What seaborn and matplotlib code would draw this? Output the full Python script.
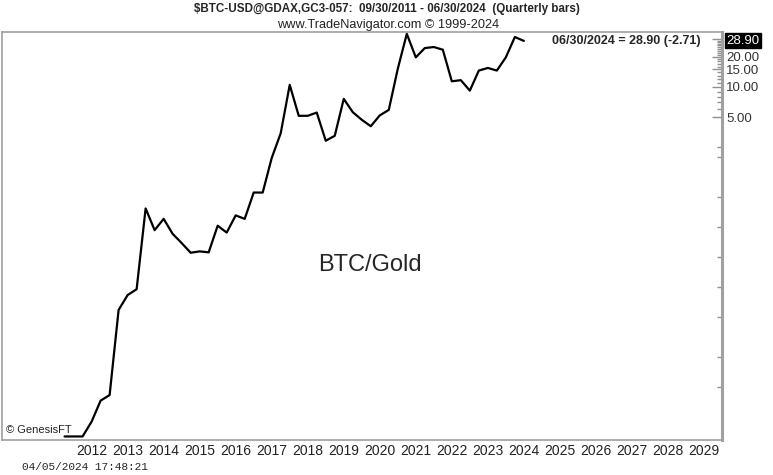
import numpy as np
import pandas as pd
import matplotlib.pyplot as plt
import matplotlib.transforms as mtransforms
from matplotlib.ticker import FixedLocator, NullFormatter
import seaborn as sns

# quarterly closes of BTC priced in gold ounces, 09/30/2011 .. 06/30/2024
quarters = pd.period_range('2011Q3', '2024Q2', freq='Q')
btc_gold = [0.0032, 0.0032, 0.0032, 0.0045, 0.0073, 0.0083, 0.059, 0.083,
            0.095, 0.61, 0.37, 0.48, 0.34, 0.275, 0.22, 0.227,
            0.222, 0.41, 0.35, 0.52, 0.48, 0.88, 0.88, 1.95,
            3.45, 10.5, 5.15, 5.15, 5.55, 2.9, 3.25, 7.6,
            5.6, 4.7, 4.05, 5.2, 5.9, 15.2, 34.0, 19.8,
            24.5, 25.1, 23.6, 11.4, 11.7, 9.2, 14.6, 15.5,
            14.6, 19.8, 31.61, 28.90]
year_labels = list(range(2012, 2030))
price_ticks = [30, 20, 15, 10, 5]
last_value = 28.90
last_change = -2.71

# each bar sits at its quarter end, as a fractional year
df = pd.DataFrame({
    'date': [q.year + q.quarter * 3 / 12 for q in quarters],
    'ratio': btc_gold,
})

sns.set_style('white')
plt.rcParams['font.family'] = ['Liberation Sans', 'DejaVu Sans']

fig = plt.figure(figsize=(7.73, 4.75), dpi=100)
ax = fig.add_axes([0.002, 0.0737, 0.932, 0.859])

sns.lineplot(data=df, x='date', y='ratio', color='black', linewidth=1.6, ax=ax)

ax.set_yscale('log')
ax.set_ylim(0.00295, 35.5)
ax.set_xlim(2010.0, 2030.0)

for sp in ax.spines.values():
    sp.set_color('#a0a0a0')
    sp.set_linewidth(1.2)
ax.spines['right'].set_linewidth(2.2)

# right price axis
ax.yaxis.tick_right()
ax.yaxis.set_major_locator(FixedLocator(price_ticks))
ax.set_yticklabels([f'{v:.2f}' for v in price_ticks])
minor = [m for m in np.arange(6, 30, 1) if m not in price_ticks]
minor += [2.5, 2.0, 0.8, 0.4, 0.2, 0.1, 0.05, 0.02, 0.01]
ax.yaxis.set_minor_locator(FixedLocator(minor))
ax.yaxis.set_minor_formatter(NullFormatter())
ax.tick_params(axis='y', which='major', direction='in', length=7, width=1,
               color='#909090', labelsize=9.5, pad=3, labelcolor='#333333')
ax.tick_params(axis='y', which='minor', direction='in', length=3.5, width=1,
               color='#909090')

# year labels under the axis
ax.set_xticks([y + 0.5 for y in year_labels])
ax.set_xticklabels([str(y) for y in year_labels])
ax.tick_params(axis='x', length=0, labelsize=10, pad=3, labelcolor='#222222')
ax.set_xlabel('')
ax.set_ylabel('')

# last value box on the price axis
trans = mtransforms.blended_transform_factory(ax.transAxes, ax.transData)
ax.text(1.006, last_value, f'{last_value:.2f}', transform=trans, color='white',
        fontsize=9.5, ha='left', va='center',
        bbox=dict(boxstyle='square,pad=0.12', fc='black', ec='black'),
        zorder=10, clip_on=False)
ax.text(0.970, last_value, f'06/30/2024 = {last_value:.2f} ({last_change:.2f})',
        transform=trans, fontsize=9, fontweight='bold', ha='right', va='center')

ax.text(0.512, 0.429, 'BTC/Gold', transform=ax.transAxes, fontsize=17,
        ha='center', va='center')
ax.text(0.006, 0.012, '© GenesisFT', transform=ax.transAxes, fontsize=8,
        ha='left', va='bottom', color='#222222')

fig.text(0.5, 0.982, r'\$BTC-USD@GDAX,GC3-057:  09/30/2011 - 06/30/2024  (Quarterly bars)',
         fontsize=8.4, fontweight='bold', ha='center', va='center')
fig.text(0.502, 0.947, 'www.TradeNavigator.com © 1999-2024',
         fontsize=9.2, ha='center', va='center', color='#222222')
fig.text(0.028, 0.017, '04/05/2024 17:48:21', fontsize=8,
         family=['Liberation Mono', 'DejaVu Sans Mono'], ha='left', va='center')

fig.savefig('out.png', dpi=100)
